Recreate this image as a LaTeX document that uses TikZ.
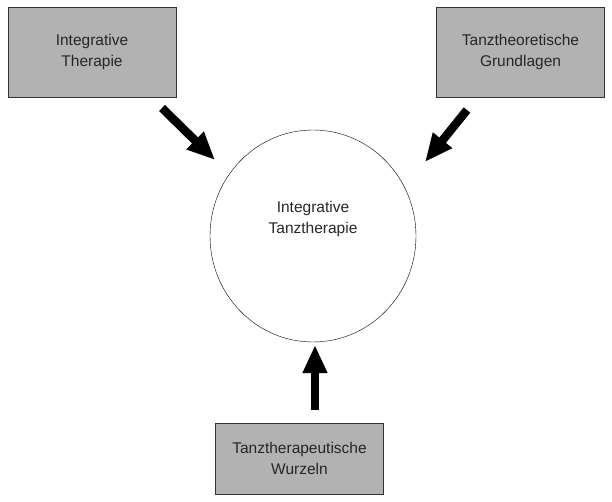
\documentclass[tikz,border=0pt]{standalone}
\usepackage{fontspec}
\setmainfont{Liberation Sans}
\usetikzlibrary{positioning}
\usetikzlibrary{arrows.meta}
\usetikzlibrary{shapes.geometric}

\tikzset{
  quelle/.style={draw=black!80, fill=black!30, minimum width=168pt, minimum height=90pt,
    align=center, font=\fontsize{15.5}{21}\selectfont, text=black!85},
  ziel/.style={draw, ellipse, minimum width=206pt, minimum height=212pt, text depth=38pt,
    align=center, font=\fontsize{15.5}{21}\selectfont, text=black!85},
  pfeil/.style={line width=8.5pt, -{Triangle[length=28pt,width=23pt]}}
}

\begin{document}
\begin{tikzpicture}[x=1pt,y=-1pt]
	  \useasboundingbox (0,0) rectangle (612,502);

	  % Central circle
	  \node[ziel] (mitte) at (313,236) {Integrative\\Tanztherapie};

	  % Source boxes
	  \node[quelle] (therapie) at (92,52) {Integrative\\Therapie};
	  \node[quelle] (grundlagen) at (520.5,52) {Tanztheoretische\\Grundlagen};
	  \node[quelle, minimum height=71pt] (wurzeln) at (299.5,458.5) {Tanztherapeutische\\Wurzeln};

	  % Arrow ends
	  \coordinate (therapie-aus) at (162,108);
	  \coordinate (therapie-ein) at (215,160);
	  \coordinate (grundlagen-aus) at (467,110);
	  \coordinate (grundlagen-ein) at (425,162);
	  \coordinate (wurzeln-aus) at (315,410);
	  \coordinate (wurzeln-ein) at (315,345);

	  % Arrows towards the circle
	  \foreach \n in {therapie,grundlagen,wurzeln} {
		\draw[pfeil] (\n-aus) -- (\n-ein);
	  }
	\end{tikzpicture}
\end{document}
